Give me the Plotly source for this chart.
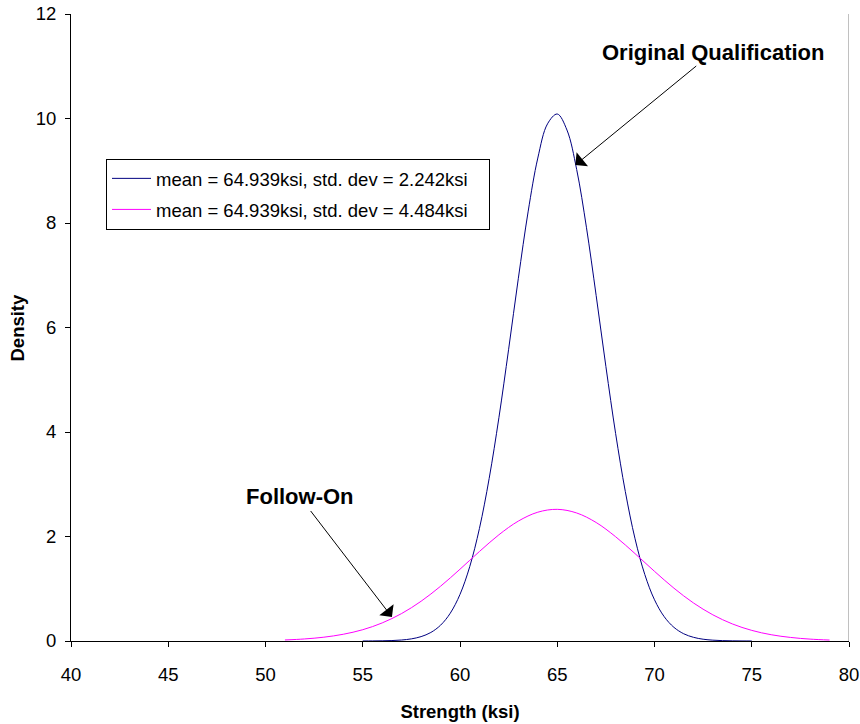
import plotly.graph_objects as go

# Original qualification curve (mean 64.939, sd 2.242)
x_orig = [55, 55.5, 56, 56.5, 57, 57.5, 58, 58.5, 59, 59.5, 60, 60.5, 61, 61.5, 62, 62.5,
          63, 63.5, 64, 64.5, 65, 65.5, 66, 66.5, 67, 67.5, 68, 68.5, 69, 69.5, 70, 70.5,
          71, 71.5, 72, 72.5, 73, 73.5, 74, 74.5, 75]
y_orig = [0.0005, 0.0014, 0.0036, 0.0085, 0.019, 0.041, 0.084, 0.163, 0.302, 0.532, 0.892,
          1.422, 2.155, 3.111, 4.273, 5.584, 6.942, 8.212, 9.243, 9.898, 10.086, 9.779, 9.022,
          7.919, 6.613, 5.255, 3.973, 2.859, 1.956, 1.274, 0.789, 0.465, 0.261, 0.139, 0.071,
          0.034, 0.016, 0.0069, 0.003, 0.0011, 0.0004]

# Follow-on curve (mean 64.939, sd 4.484)
x_follow = [51, 52, 53, 54, 55, 56, 57, 58, 59, 60, 61, 62, 63, 64, 65,
            66, 67, 68, 69, 70, 71, 72, 73, 74, 75, 76, 77, 78, 79]
y_follow = [0.020, 0.039, 0.073, 0.129, 0.216, 0.346, 0.526, 0.761, 1.048, 1.374, 1.713,
            2.033, 2.295, 2.465, 2.520, 2.450, 2.268, 1.996, 1.672, 1.333, 1.011, 0.729,
            0.501, 0.327, 0.203, 0.120, 0.068, 0.036, 0.018]

series_names = ["mean = 64.939ksi, std. dev = 2.242ksi",
                "mean = 64.939ksi, std. dev = 4.484ksi"]
x_ticks = [40, 45, 50, 55, 60, 65, 70, 75, 80]
y_ticks = [0, 2, 4, 6, 8, 10, 12]

FONT = "Arial, Liberation Sans, sans-serif"
PAD = "\u00a0\u00a0\u00a0"

fig = go.Figure()
fig.add_trace(go.Scatter(x=x_orig, y=y_orig, mode="lines", name=series_names[0] + PAD,
                         legendgroup="a",
                         line=dict(color="#000080", width=1, shape="spline")))
fig.add_trace(go.Scatter(x=x_follow, y=y_follow, mode="lines", name=series_names[1] + PAD,
                         legendgroup="b",
                         line=dict(color="#FF00FF", width=1, shape="spline")))

# right plot-area border (gray)
fig.add_shape(type="line", xref="x", yref="y", x0=80, x1=80, y0=0, y1=12,
              line=dict(color="#808080", width=1))

fig.add_annotation(x=65.93, y=9.11, xref="x", yref="y",
                   text="<b>Original Qualification</b>",
                   font=dict(family=FONT, size=22, color="black"),
                   showarrow=True, arrowhead=1, arrowsize=3, arrowwidth=1,
                   arrowcolor="black", ax=138, ay=-113)
fig.add_annotation(x=56.5, y=0.46, xref="x", yref="y",
                   text="<b>Follow-On</b>",
                   font=dict(family=FONT, size=22, color="black"),
                   showarrow=True, arrowhead=1, arrowsize=3, arrowwidth=1,
                   arrowcolor="black", ax=-92, ay=-120)
# y-axis title
fig.add_annotation(x=-0.0694, y=0.5, xref="paper", yref="paper",
                   text="<b>Density</b>", textangle=-90, showarrow=False,
                   xanchor="center", yanchor="middle",
                   font=dict(family=FONT, size=18.5, color="black"))

fig.update_layout(
    width=860, height=724,
    margin=dict(l=71, r=11, t=14, b=83, autoexpand=False),
    paper_bgcolor="white", plot_bgcolor="white",
    font=dict(family=FONT, size=18.5, color="black"),
    showlegend=True,
    legend=dict(x=0.045, y=0.769, xanchor="left", yanchor="top",
                bgcolor="white", bordercolor="black", borderwidth=1,
                font=dict(family=FONT, size=18.5, color="black"),
                tracegroupgap=4, itemwidth=39),
    xaxis=dict(range=[40, 80], tickvals=x_ticks, ticks="outside", ticklen=5,
               tickcolor="black", showline=True, linecolor="black", linewidth=1,
               showgrid=False, zeroline=False, ticklabelstandoff=12, automargin=False,
               ticklabeloverflow="allow",
               title=dict(text="<b>Strength (ksi)</b>", standoff=20,
                          font=dict(family=FONT, size=18.5))),
    yaxis=dict(range=[0, 12], tickvals=y_ticks, ticks="outside", ticklen=5,
               tickcolor="black", showline=True, linecolor="black", linewidth=1,
               showgrid=False, zeroline=False, ticklabelstandoff=5, automargin=False,
               ticklabeloverflow="allow"),
)

fig.write_html("out.html", config={"displayModeBar": False},
               post_script="document.body.style.margin='0';document.body.style.overflow='hidden';")
